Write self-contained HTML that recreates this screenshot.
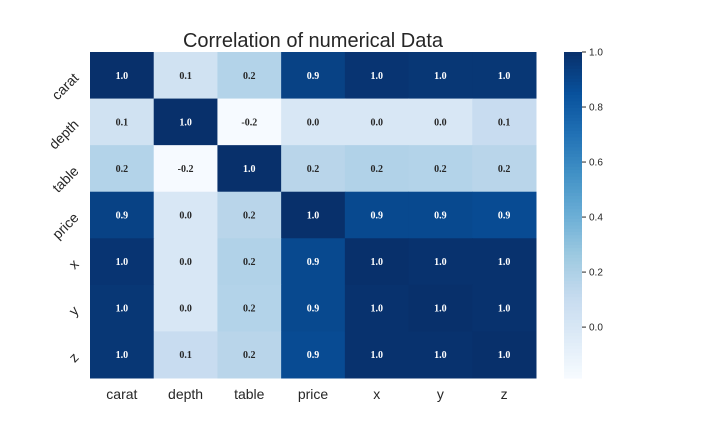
<!DOCTYPE html>
<html><head><meta charset="utf-8"><style>
body{margin:0;background:#fff;}
svg{display:block;font-family:"Liberation Sans",sans-serif;}
</style></head><body>
<svg id="chart" width="720" height="432">
<text x="313" y="47" text-anchor="middle" font-size="20" fill="#262626">Correlation of numerical Data</text>
<g id="cells"></g>
<g id="xlabels"></g>
<g id="ylabels"></g>
<g id="colorbar"></g>
</svg>
<script>
const labels=["carat","depth","table","price","x","y","z"];
const row0=[1.0,0.05,0.18,0.92,0.98,0.97,0.97];
const row1=[0.05,1.0,-0.18,0.0,0.0,0.0,0.1];
const row2=[0.18,-0.18,1.0,0.16,0.19,0.18,0.16];
const row3=[0.92,0.0,0.16,1.0,0.89,0.89,0.88];
const row4=[0.98,0.0,0.19,0.89,1.0,0.99,0.99];
const row5=[0.97,0.0,0.18,0.89,0.99,1.0,0.99];
const row6=[0.97,0.1,0.16,0.88,0.99,0.99,1.0];
const matrix=[row0,row1,row2,row3,row4,row5,row6];
const cbTicks=[1.0,0.8,0.6,0.4,0.2,0.0];
const cbTickLabels=["1.0","0.8","0.6","0.4","0.2","0.0"];
const vmin=-0.185,vmax=1.0;
const NS="http://www.w3.org/2000/svg";
const stops=["#f7fbff","#deebf7","#c6dbef","#9ecae1","#6baed6","#4292c6","#2171b5","#08519c","#08306b"];
function hex(h){return [1,3,5].map(i=>parseInt(h.substr(i,2),16));}
function cmap(v){let t=(v-vmin)/(vmax-vmin);t=Math.max(0,Math.min(1,t));const p=t*(stops.length-1);const i=Math.min(stops.length-2,Math.floor(p));const f=p-i;const a=hex(stops[i]),b=hex(stops[i+1]);return "rgb("+a.map((c,k)=>Math.round(c+(b[k]-c)*f)).join(",")+")";}
function fmt(v){return (Math.round(v*10)/10).toFixed(1);}
const X0=90,X1=536,Y0=52,Y1=378;
const cw=(X1-X0)/labels.length,ch=(Y1-Y0)/labels.length;
const xs=i=>X0+i*cw, ys=j=>Y0+j*ch;
function mk(tag,attrs,parent){const e=document.createElementNS(NS,tag);for(const k in attrs)e.setAttribute(k,attrs[k]);parent.appendChild(e);return e;}
const cells=document.getElementById("cells");
matrix.forEach((row,j)=>row.forEach((v,i)=>{
 const r=mk("rect",{x:xs(i),y:ys(j),width:cw+0.5,height:ch+0.5,fill:cmap(v)},cells);
 
 
 const t=mk("text",{x:xs(i)+cw/2,y:ys(j)+ch/2+3.5,"text-anchor":"middle","font-size":"10","font-weight":"bold","font-family":"Liberation Serif,serif",fill:((v-vmin)/(vmax-vmin)>0.6)?"#fff":"#262626"},cells);
 t.textContent=fmt(v);
 
 
}));
const xl=document.getElementById("xlabels"),yl=document.getElementById("ylabels");
labels.forEach((l,i)=>{
 const t=mk("text",{x:xs(i)+cw/2,y:399,"text-anchor":"middle","font-size":"14",fill:"#262626"},xl);
 t.textContent=l;
 
 
 const cx=76,cy=ys(i)+ch/2;
 const u=mk("text",{x:cx,y:cy+5,"text-anchor":"end","font-size":"14",fill:"#262626",transform:"rotate(-45 "+cx+" "+cy+")"},yl);
 u.textContent=l;
 
 
});
const cb=document.getElementById("colorbar");
const CX=564,CW=18;
const cy=v=>Y1-(v-vmin)/(vmax-vmin)*(Y1-Y0);
const N=100;
for(let k=0;k<N;k++){const v0=vmin+(vmax-vmin)*k/N;mk("rect",{x:CX,y:cy(v0+(vmax-vmin)/N),width:CW,height:(Y1-Y0)/N+0.6,fill:cmap(v0+(vmax-vmin)/N/2)},cb);}
cbTicks.forEach((v,k)=>{
 mk("line",{x1:CX+CW,x2:CX+CW+4,y1:cy(v),y2:cy(v),stroke:"#262626","stroke-width":"1"},cb);
 const t=mk("text",{x:CX+CW+7,y:cy(v)+3.5,"font-size":"10",fill:"#262626"},cb);
 t.textContent=cbTickLabels[k];
 
 
});
</script>
</body></html>
